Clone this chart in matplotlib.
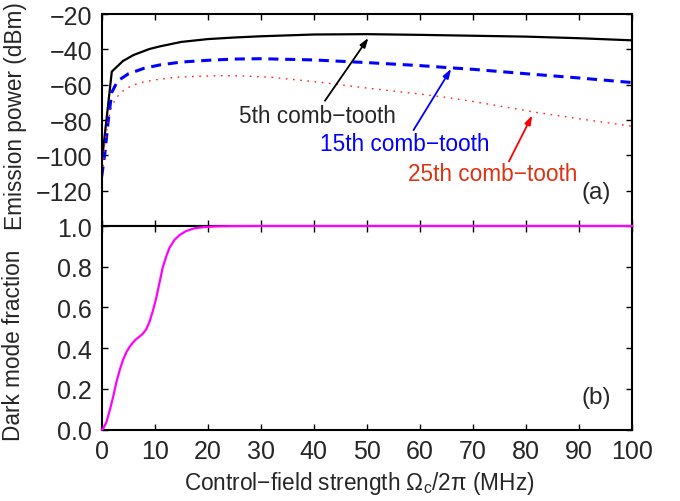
"""Emission power of three comb teeth and dark-mode fraction vs control field."""

from __future__ import annotations

import matplotlib

matplotlib.use("Agg")
import matplotlib.pyplot as plt


# Panel (a): emission power (dBm) of three comb teeth
x_5th = [0, 1.9, 4, 6, 9, 11, 15, 20, 25, 30, 40, 50, 60, 70, 80, 90, 100]
p_5th = [-104, -52.6, -46.6, -43.2, -39.8, -38.3, -35.8, -34.2, -33.3, -32.6,
         -31.6, -31.4, -31.8, -32.3, -32.8, -33.7, -34.9]

x_15th = [0, 0.6, 1.25, 1.9, 3, 5, 8, 11, 15, 20, 25, 30, 40, 50, 60, 66, 70,
          80, 90, 100]
p_15th = [-112, -98.6, -79.6, -64.3, -57.9, -53.9, -50.7, -48.8, -47.2, -46.2,
          -45.5, -45.3, -46.0, -47.5, -49.2, -50.5, -51.3, -53.8, -56.2, -58.8]

x_25th = [0, 0.6, 1.25, 1.9, 2.8, 4.4, 7, 10, 14, 18, 22, 26, 32, 41, 50, 60,
          65, 70, 82, 90, 100]
p_25th = [-118.5, -92.9, -79.6, -72, -67.2, -62.4, -59, -57.3, -55.8, -55.3,
          -54.9, -55, -55.8, -58.6, -61.9, -65.3, -67.2, -69.5, -75.7, -79.3,
          -83.5]

# Panel (b): dark mode fraction
x_dark = [0, 0.25, 0.88, 1.5, 2.13, 2.76, 3.39, 4.0, 4.64, 5.27, 5.9, 6.5,
          7.15, 7.8, 8.4, 9.0, 9.65, 10.3, 10.9, 11.5, 12.2, 12.8, 13.7, 14.7,
          15.9, 17.5, 19.4, 21.6, 25, 30, 100]
f_dark = [0, 0.003, 0.036, 0.093, 0.158, 0.232, 0.292, 0.341, 0.379, 0.407,
          0.428, 0.444, 0.457, 0.472, 0.493, 0.529, 0.583, 0.649, 0.722,
          0.796, 0.853, 0.894, 0.931, 0.956, 0.975, 0.989, 0.995, 0.998,
          0.9995, 1.0, 1.0]

x_ticks = list(range(0, 101, 10))
power_ticks = [-120, -100, -80, -60, -40, -20]
dark_ticks = [0.0, 0.2, 0.4, 0.6, 0.8, 1.0]

# (label, text position, arrow tail, arrow tip, text colour, arrow colour)
tooth_labels = [
    ("5th comb\u2212tooth", (40.7, -77.3), (42.1, -69.1), (50.3, -33.5),
     "#262626", "black"),
    ("15th comb\u2212tooth", (57.1, -93.3), (58.8, -85.7), (65.9, -51.0),
     "#0000ff", "#0000ff"),
    ("25th comb\u2212tooth", (73.7, -110.0), (76.8, -103.4), (81.2, -77.3),
     "#dd3311", "#ff0000"),
]

TEXT_GRAY = "#262626"


def style_axes(ax) -> None:
    """MATLAB-like frame: boxed axes with inward ticks on all sides."""
    for spine in ax.spines.values():
        spine.set_linewidth(1.5)
    ax.tick_params(direction="in", top=True, right=True, length=4, width=1.0,
                   labelsize=18, labelcolor=TEXT_GRAY, pad=7)


def main() -> None:
    plt.rcParams["font.family"] = ["Liberation Sans", "DejaVu Sans"]
    plt.rcParams["mathtext.fontset"] = "custom"
    plt.rcParams["mathtext.rm"] = "Liberation Sans"
    plt.rcParams["mathtext.it"] = "Liberation Sans"
    plt.rcParams["mathtext.default"] = "regular"

    fig = plt.figure(figsize=(6.8, 5.02), dpi=100)
    ax_a = fig.add_axes([0.1496, 0.5478, 0.7798, 0.4223])
    ax_b = fig.add_axes([0.1496, 0.1424, 0.7798, 0.4054])

    # (a) emission power
    ax_a.plot(x_5th, p_5th, color="black", lw=1.6)
    ax_a.plot(x_15th, p_15th, color="#0000ff", lw=2.2,
              linestyle=(0, (3.3, 2.2)))
    ax_a.plot(x_25th, p_25th, color="#ff2020", lw=1.0,
              linestyle=(0, (1.2, 4.0)))
    ax_a.set_xlim(0, 100)
    ax_a.set_ylim(-140, -20)
    ax_a.set_xticks(x_ticks)
    ax_a.set_xticklabels([])
    ax_a.set_yticks(power_ticks)
    style_axes(ax_a)
    ax_a.set_ylabel("Emission power (dBm)", fontsize=16.3, color=TEXT_GRAY)
    ax_a.yaxis.set_label_coords(-0.141, 0.521)

    for text, text_xy, tail, tip, tcolor, acolor in tooth_labels:
        ax_a.annotate("", xy=tip, xytext=tail,
                      arrowprops=dict(arrowstyle="-|>,head_length=0.55,head_width=0.18",
                                      color=acolor, lw=1.3,
                                      shrinkA=0, shrinkB=0))
        ax_a.text(text_xy[0], text_xy[1], text, color=tcolor, fontsize=16.3,
                  ha="center", va="center")
    ax_a.text(96.1, -121, "(a)", fontsize=17.5, color=TEXT_GRAY,
              ha="right", va="center")

    # (b) dark mode fraction
    ax_b.plot(x_dark, f_dark, color="#ff00ff", lw=1.6, clip_on=False,
              zorder=5)
    ax_b.set_xlim(0, 100)
    ax_b.set_ylim(0, 1)
    ax_b.set_xticks(x_ticks)
    ax_b.set_yticks(dark_ticks)
    ax_b.set_yticklabels([f"{v:.1f}" for v in dark_ticks])
    style_axes(ax_b)
    ax_b.set_ylabel("Dark mode fraction", fontsize=16.3, color=TEXT_GRAY)
    ax_b.yaxis.set_label_coords(-0.145, 0.42)
    ax_b.set_xlabel("Control\u2212field strength $\\Omega_c/2\\pi$ (MHz)",
                    fontsize=16.3, color=TEXT_GRAY)
    ax_b.xaxis.set_label_coords(0.485, -0.195)
    ax_b.text(96.1, 0.16, "(b)", fontsize=17.5, color=TEXT_GRAY,
              ha="right", va="center")

    fig.savefig("out.png", dpi=100)
    plt.close(fig)


if __name__ == "__main__":
    main()
